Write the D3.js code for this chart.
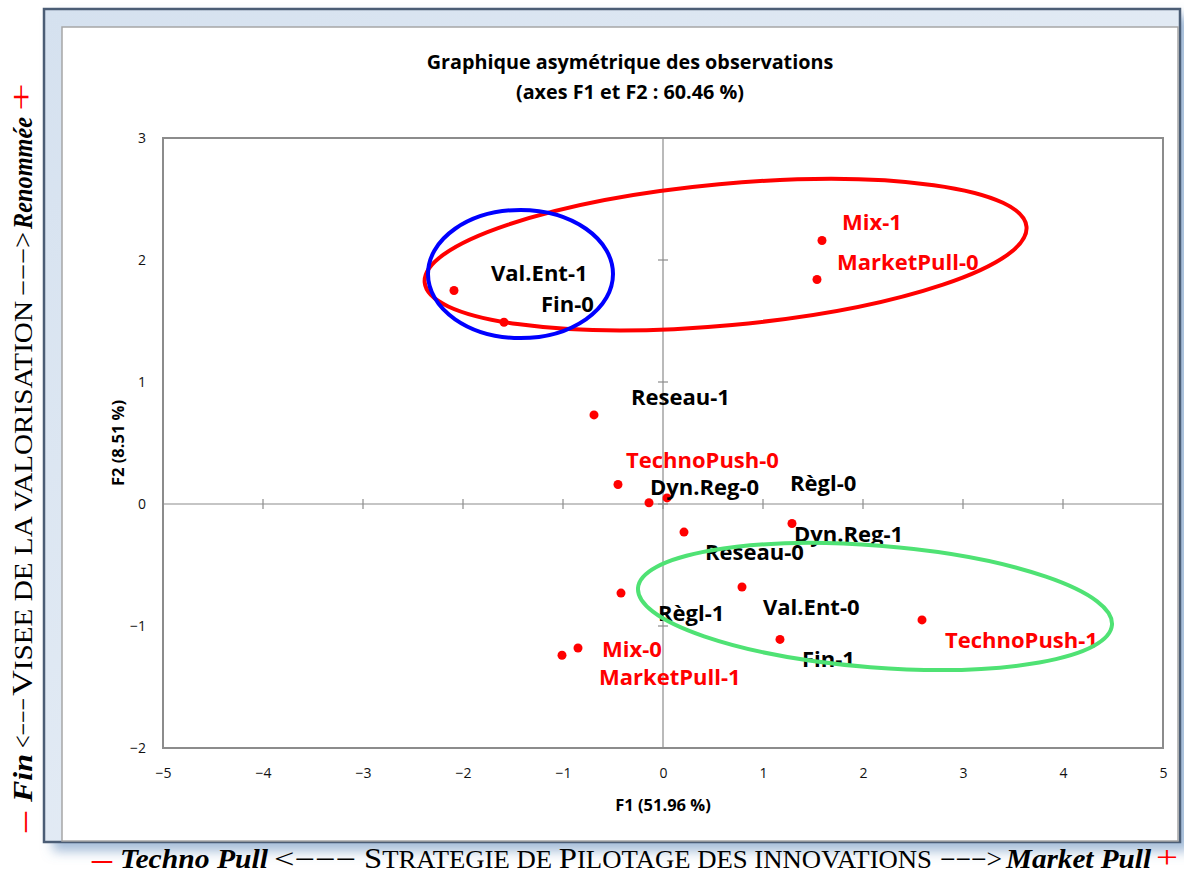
<!DOCTYPE html>
<html>
<head>
<meta charset="utf-8">
<script src="https://cdn.jsdelivr.net/npm/d3@7"></script>
<style>
  html, body { margin: 0; padding: 0; background: #ffffff; }
  svg { display: block; }
</style>
</head>
<body>
<svg id="chart" width="1184" height="874"></svg>
<script>
// ---------------- DATA ----------------
const labels = ["Val.Ent-1", "Fin-0", "Mix-1", "MarketPull-0", "Reseau-1", "TechnoPush-0",
  "Dyn.Reg-0", "Règl-0", "Reseau-0", "Dyn.Reg-1", "Règl-1", "Val.Ent-0", "Fin-1",
  "TechnoPush-1", "Mix-0", "MarketPull-1"];
const f1Values = [-2.09, -1.59, 1.59, 1.54, -0.69, -0.45, -0.14, 0.04, 0.21, 1.29, -0.42, 0.79, 1.17, 2.59, -0.85, -1.01];
const f2Values = [1.75, 1.49, 2.16, 1.84, 0.73, 0.16, 0.01, 0.05, -0.23, -0.16, -0.73, -0.68, -1.11, -0.95, -1.18, -1.24];
const labelGroup = ["black", "black", "red", "red", "black", "red", "black", "black", "black", "black", "black", "black", "black", "red", "red", "red"];
const xTicks = [-5, -4, -3, -2, -1, 0, 1, 2, 3, 4, 5];
const yTicks = [-2, -1, 0, 1, 2, 3];
const titleLines = ["Graphique asymétrique des observations", "(axes F1 et F2 : 60.46 %)"];
const xTitle = "F1 (51.96 %)";
const yTitle = "F2 (8.51 %)";
// highlight ellipses (data units): centre F1, centre F2, half-width F1, half-height F2, tilt
const ellipseNames = ["red", "blue", "green"];
const ellipseCx = [0.626, -1.425, 2.12];
const ellipseCy = [2.044, 1.885, -0.84];
const ellipseRx = [3.022, 0.925, 2.377];
const ellipseRy = [0.579, 0.525, 0.499];
const ellipseTilt = [-5.3, 0, 4.46];
// caption texts
const bottomCaption = ["–", "Techno Pull", "<−−−", ["S", "TRATEGIE DE ", "P", "ILOTAGE DES INNOVATIONS"], "−−−>", "Market Pull", "+"];
const leftCaption = ["–", "Fin", "<−−−", ["V", "ISEE DE LA VALORISATION"], "−−−>", "Renommée", "+"];

// ---------------- LAYOUT / STYLE ----------------
const labelOffsets = [[37,-10],[37,-10],[20,-10],[20,-10],[37,-10],[8,-16],[1,-8],[123,-7],
  [21,28],[2,18],[37,28],[21,28],[22,28],[23,28],[24,9],[37,30]];
const ellipseColors = {red: "#ff0000", blue: "#0000ff", green: "#4fe274"};
const plot = {left: 163, right: 1163, top: 138, bottom: 748};
const sans = "'Open Sans', 'DejaVu Sans', sans-serif";
const serif = "'Liberation Serif', 'Times New Roman', serif";
// caption segment styles and [start, length] along the reading direction
const segStyle = ["red", "bi", "reg", "sc", "reg", "bi", "redplus"];
const bottomSegs = [[92, 20], [120, 148], [274, 82], [364, 568], [940, 62], [1006, 145], [1156, 22]];
const leftSegs = [[16, 20], [46, 48], [100, 50], [152, 395], [552, 64], [619, 112], [737, 28]];

const svg = d3.select("#chart");
const defs = svg.append("defs");

// frame gradient + shadow
const grad = defs.append("linearGradient").attr("id", "band").attr("x1", 0).attr("y1", 0).attr("x2", 1).attr("y2", 1);
grad.append("stop").attr("offset", "0%").attr("stop-color", "#d5e1ef");
grad.append("stop").attr("offset", "100%").attr("stop-color", "#eef3f9");
const shadow = defs.append("filter").attr("id", "shadow").attr("x", "-5%").attr("y", "-5%").attr("width", "115%").attr("height", "115%");
shadow.append("feGaussianBlur").attr("in", "SourceAlpha").attr("stdDeviation", 6).attr("result", "b");
shadow.append("feOffset").attr("in", "b").attr("dx", 10).attr("dy", 8).attr("result", "o");
shadow.append("feFlood").attr("flood-color", "#5b86b8").attr("flood-opacity", 0.55).attr("result", "c");
shadow.append("feComposite").attr("in", "c").attr("in2", "o").attr("operator", "in").attr("result", "s");
const m = shadow.append("feMerge");
m.append("feMergeNode").attr("in", "s");
m.append("feMergeNode").attr("in", "SourceGraphic");

svg.append("rect").attr("width", 1184).attr("height", 874).attr("fill", "#ffffff");

svg.append("rect").attr("x", 44).attr("y", 9).attr("width", 1136).attr("height", 833)
  .attr("fill", "url(#band)").attr("stroke", "#4b5d75").attr("stroke-width", 2.5)
  .attr("filter", "url(#shadow)");
svg.append("rect").attr("x", 62).attr("y", 27).attr("width", 1116).attr("height", 814)
  .attr("fill", "#ffffff").attr("stroke", "#a6a6a6").attr("stroke-width", 1.5);

// ---------------- SCALES ----------------
const x = d3.scaleLinear().domain([-5, 5]).range([plot.left, plot.right]);
const y = d3.scaleLinear().domain([-2, 3]).range([plot.bottom, plot.top]);

// title
svg.append("g").selectAll("text").data(titleLines).join("text")
  .attr("x", 630).attr("y", (d, i) => 69 + i * 30)
  .attr("text-anchor", "middle").attr("font-family", sans).attr("font-weight", 700)
  .attr("font-size", 19.8).attr("fill", "#000").text(d => d);

// plot frame
svg.append("rect").attr("x", plot.left).attr("y", plot.top)
  .attr("width", plot.right - plot.left).attr("height", plot.bottom - plot.top)
  .attr("fill", "none").attr("stroke", "#8c8c8c").attr("stroke-width", 2);

// tick labels via axes
const axX = svg.append("g").attr("transform", `translate(0,${plot.bottom})`)
  .call(d3.axisBottom(x).tickValues(xTicks).tickSize(0).tickPadding(20).tickFormat(d3.format("d")));
const axY = svg.append("g").attr("transform", `translate(${plot.left},0)`)
  .call(d3.axisLeft(y).tickValues(yTicks).tickSize(0).tickPadding(17).tickFormat(d3.format("d")));
[axX, axY].forEach(a => {
  a.select(".domain").remove();
  a.selectAll("text").attr("font-family", sans).attr("font-size", 14).attr("fill", "#111");
});

// origin axes with cross ticks
const cross = svg.append("g").attr("stroke", "#8c8c8c").attr("stroke-width", 1.2);
cross.append("line").attr("x1", x(0)).attr("x2", x(0)).attr("y1", plot.top).attr("y2", plot.bottom);
cross.append("line").attr("x1", plot.left).attr("x2", plot.right).attr("y1", y(0)).attr("y2", y(0));
cross.selectAll(".tx").data(xTicks.filter(d => d > -5 && d < 5)).join("line").attr("class", "tx")
  .attr("x1", d => x(d)).attr("x2", d => x(d)).attr("y1", y(0) - 5).attr("y2", y(0) + 5);
cross.selectAll(".ty").data(yTicks.filter(d => d > -2 && d < 3)).join("line").attr("class", "ty")
  .attr("y1", d => y(d)).attr("y2", d => y(d)).attr("x1", x(0) - 5).attr("x2", x(0) + 5);

// axis titles
svg.append("text").attr("x", x(0)).attr("y", 811).attr("text-anchor", "middle")
  .attr("font-family", sans).attr("font-weight", 700).attr("font-size", 16.5).text(xTitle);
svg.append("text").attr("transform", `translate(124,${(plot.top + plot.bottom) / 2}) rotate(-90)`)
  .attr("text-anchor", "middle").attr("font-family", sans).attr("font-weight", 700)
  .attr("font-size", 16.5).text(yTitle);

// points
const pts = labels.map((l, i) => ({label: l, f1: f1Values[i], f2: f2Values[i], g: labelGroup[i], off: labelOffsets[i]}));
svg.append("g").selectAll("circle").data(pts).join("circle")
  .attr("cx", d => x(d.f1)).attr("cy", d => y(d.f2)).attr("r", 4.5).attr("fill", "#ff0000");

// labels
svg.append("g").selectAll("text").data(pts).join("text")
  .attr("x", d => x(d.f1) + d.off[0]).attr("y", d => y(d.f2) + d.off[1])
  .attr("font-family", sans).attr("font-weight", 700).attr("font-size", 22)
  .attr("fill", d => d.g === "red" ? "#ff0000" : "#000").text(d => d.label);

// ellipses
const ell = ellipseNames.map((n, i) => ({n, cx: ellipseCx[i], cy: ellipseCy[i], rx: ellipseRx[i], ry: ellipseRy[i], t: ellipseTilt[i]}));
svg.append("g").selectAll("ellipse").data(ell).join("ellipse")
  .attr("transform", d => `translate(${x(d.cx)},${y(d.cy)}) rotate(${d.t})`)
  .attr("rx", d => x(d.rx) - x(0)).attr("ry", d => y(0) - y(d.ry))
  .attr("fill", "none").attr("stroke", d => ellipseColors[d.n]).attr("stroke-width", 4);

// captions
function caption(g, texts, segs) {
  texts.forEach((t, i) => {
    const st = segStyle[i];
    const el = g.append("text").attr("x", segs[i][0]).attr("y", 0)
      .attr("font-family", serif).attr("font-size", 27).attr("fill", "#000")
      .attr("textLength", segs[i][1]).attr("lengthAdjust", "spacingAndGlyphs");
    if (st === "red") el.attr("fill", "#ff0000").attr("font-weight", 700).text(t);
    else if (st === "redplus") el.attr("fill", "#ff0000").attr("font-size", 32).text(t);
    else if (st === "bi") el.attr("font-weight", 700).attr("font-style", "italic").text(t);
    else if (st === "reg") el.text(t);
    else {
      t.forEach((p, j) => el.append("tspan").attr("font-size", j % 2 === 0 ? 30 : 24.5).text(p));
    }
  });
}
caption(svg.append("g").attr("transform", "translate(0,868)"), bottomCaption, bottomSegs);
caption(svg.append("g").attr("transform", "translate(32,848) rotate(-90)"), leftCaption, leftSegs);
</script>
</body>
</html>
